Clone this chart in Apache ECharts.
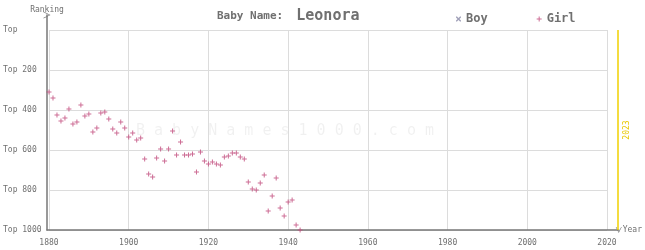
<!DOCTYPE html>
<html>
<head>
<meta charset="utf-8">
<script src="https://cdn.jsdelivr.net/npm/echarts@6/dist/echarts.min.js"></script>
<style>
html,body{margin:0;padding:0;background:#fff;}
#c{width:645px;height:250px;}
</style>
</head>
<body>
<div id="c"></div>
<script>
const girlYears = [1880,1881,1882,1883,1884,1885,1886,1887,1888,1889,
  1890,1891,1892,1893,1894,1895,1896,1897,1898,1899,
  1900,1901,1902,1903,1904,1905,1906,1907,1908,1909,
  1910,1911,1912,1913,1914,1915,1916,1917,1918,1919,
  1920,1921,1922,1923,1924,1925,1926,1927,1928,1929,
  1930,1931,1932,1933,1934,1935,1936,1937,1938,1939,
  1940,1941,1942,1943];
const girlRanks = [310,340,425,455,440,395,470,460,375,430,
  420,510,490,415,410,445,495,515,460,490,
  535,515,550,540,645,720,735,640,595,655,
  595,505,625,560,625,625,620,710,610,655,
  670,660,670,675,635,630,615,615,635,645,
  760,795,800,765,725,905,830,740,890,930,
  860,850,975,1000];
const boyYears = [];
const boyRanks = [];
const currentYear = 2023;
const xTicks = [1880,1900,1920,1940,1960,1980,2000,2020];
const yTicks = [0,200,400,600,800,1000];
const yTickLabels = ['Top','Top 200','Top 400','Top 600','Top 800','Top 1000'];

const MONO = '"DejaVu Sans Mono", "Liberation Mono", monospace';
const GREY = '#707070';
const PINK = '#c0487a';
const BLUE = '#8a8aa8';
const plusPath = 'path://M2,0H3V2H5V3H3V5H2V3H0V2H2Z';
const crossPath = 'path://M0,0L1,0L2.5,1.5L4,0L5,0L5,1L3.5,2.5L5,4L5,5L4,5L2.5,3.5L1,5L0,5L0,4L1.5,2.5L0,1Z';
const chev = 'path://M0,0L10,5L0,10L0,9L8,5L0,1Z';

const chart = echarts.init(document.getElementById('c'), null, {renderer:'canvas'});
chart.setOption({
  animation: false,
  backgroundColor: '#fff',
  title: {
    text: '{a|Baby Name:}{b| Leonora}',
    left: 212, top: 4,
    textStyle: {
      rich: {
        a: {fontFamily: MONO, fontSize: 11, fontWeight: 'bold', color: GREY},
        b: {fontFamily: MONO, fontSize: 15, color: GREY, padding: [0, 0, 0, 4]}
      }
    }
  },
  legend: {
    data: ['Boy','Girl'],
    left: 451, top: 8,
    itemWidth: 5, itemHeight: 5, itemGap: 49,
    textStyle: {fontFamily: MONO, fontSize: 12, fontWeight: 'bold', color: GREY}
  },
  graphic: [{
    type: 'text', left: 136, top: 124, z: 0, silent: true,
    style: {text: 'B a b y N a m e s 1 0 0 0 . c o m', font: '15px ' + MONO, fill: 'rgba(0,0,0,0.06)'}
  }],
  grid: [
    {left: 47, top: 30, width: 560, height: 200},
    {left: 47, top: 15, width: 573, height: 215}
  ],
  xAxis: [
    {gridIndex: 0, type: 'value', min: 1880, max: 2020, interval: 20,
     axisLine: {show: false}, axisTick: {show: false},
     splitLine: {show: true, lineStyle: {color: '#dcdcdc', width: 1}},
     axisLabel: {fontFamily: MONO, fontSize: 8, color: GREY, margin: 9,
       formatter: v => xTicks.includes(v) ? String(v) : ''}},
    {gridIndex: 1, type: 'value', min: 1880, max: 2023.25, position: 'bottom',
     axisLine: {show: true, onZero: false, lineStyle: {color: '#777', width: 1.5},
       symbol: ['none', chev], symbolSize: [6, 6]},
     axisTick: {show: false}, axisLabel: {show: false}, splitLine: {show: false},
     name: 'Year', nameLocation: 'end', nameGap: 4,
     nameTextStyle: {fontFamily: MONO, fontSize: 8, color: GREY}}
  ],
  yAxis: [
    {gridIndex: 0, type: 'value', inverse: true, min: 0, max: 1000, interval: 200,
     axisLine: {show: false}, axisTick: {show: false},
     splitLine: {show: true, lineStyle: {color: '#dcdcdc', width: 1}},
     axisLabel: {fontFamily: MONO, fontSize: 8, color: GREY, margin: 46, align: 'left',
       formatter: v => { const i = yTicks.indexOf(v); return i >= 0 ? yTickLabels[i] : ''; }}},
    {gridIndex: 1, type: 'value', min: 0, max: 1075, position: 'left',
     axisLine: {show: true, onZero: false, lineStyle: {color: '#777', width: 1.5},
       symbol: ['none', chev], symbolSize: [7, 8]},
     axisTick: {show: false}, axisLabel: {show: false}, splitLine: {show: false},
     name: 'Ranking', nameLocation: 'end', nameGap: 1,
     nameTextStyle: {fontFamily: MONO, fontSize: 8, color: GREY, align: 'center'}}
  ],
  series: [
    {name: 'Boy', type: 'scatter', xAxisIndex: 0, yAxisIndex: 0,
     symbol: crossPath, symbolSize: 5, itemStyle: {color: BLUE},
     data: boyYears.map((y, i) => [y, boyRanks[i]])},
    {name: 'Girl', type: 'scatter', xAxisIndex: 0, yAxisIndex: 0,
     symbol: plusPath, symbolSize: 5, itemStyle: {color: PINK}, z: 5,
     data: girlYears.map((y, i) => [y, girlRanks[i]])},
    {name: 'current', type: 'line', xAxisIndex: 1, yAxisIndex: 1,
     data: [], silent: true,
     markLine: {
       silent: true, symbol: ['none', 'none'],
       lineStyle: {color: '#f0d000', width: 1.5, type: 'solid'},
       label: {show: true, position: 'insideMiddleBottom', formatter: String(currentYear),
         fontFamily: MONO, fontSize: 8, color: '#e8c800', distance: 5},
       data: [[{coord: [currentYear, 0]}, {coord: [currentYear, 1000]}]]
     }}
  ]
});
</script>
</body>
</html>
